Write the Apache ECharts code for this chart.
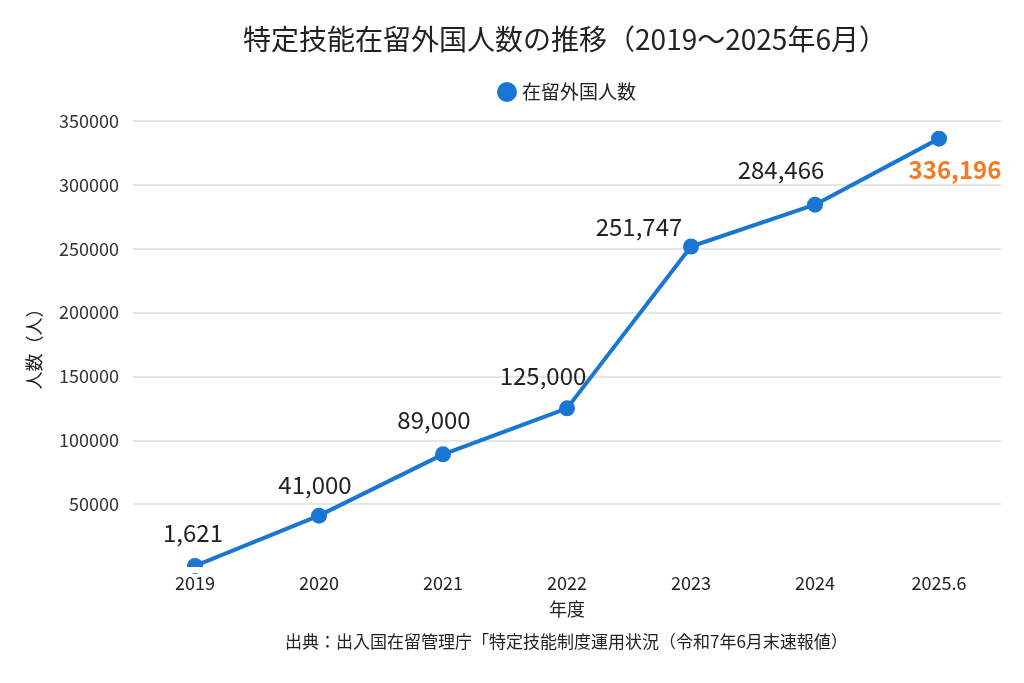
<!DOCTYPE html>
<html><head><meta charset="utf-8">
<script src="https://cdn.jsdelivr.net/npm/echarts@6/dist/echarts.min.js"></script>
<style>html,body{margin:0;padding:0;background:#fff}#c{width:1024px;height:683px}</style>
</head><body><div id="c"></div>
<script>
const categories = ['2019','2020','2021','2022','2023','2024','2025.6'];
const values = [1621, 41000, 89000, 125000, 251747, 284466, 336196];
const yTicks = [0, 50000, 100000, 150000, 200000, 250000, 300000, 350000];
const labelOffsets = [[-2,0],[-4,2],[-9,-1],[-24,1],[-52,13],[-34,-2],[16,64]];

const FONT = '"Noto Sans CJK JP", "Noto Sans", sans-serif';
const chart = echarts.init(document.getElementById('c'));
const data = values.map((v, i) => {
  const last = i === values.length - 1;
  return {
    value: v,
    label: {
      offset: labelOffsets[i],
      color: last ? '#f47b20' : '#222',
      fontWeight: last ? 'bold' : 'normal'
    }
  };
});
chart.setOption({
  animation: false,
  textStyle: { fontFamily: FONT },
  title: {
    text: '特定技能在留外国人数の推移（2019～2025年6月）',
    left: 560, top: 20, textAlign: 'center',
    textStyle: { fontSize: 28, fontWeight: 'normal', color: '#222', fontFamily: FONT }
  },
  legend: {
    data: ['在留外国人数'], left: 492, top: 77,
    icon: 'circle', itemWidth: 20, itemHeight: 20, itemGap: 8,
    textStyle: { fontSize: 19, color: '#222', fontFamily: FONT }
  },
  grid: { left: 133, right: 23, top: 121, bottom: 115, containLabel: false },
  xAxis: {
    type: 'category', data: categories, boundaryGap: true,
    name: '年度', nameLocation: 'middle', nameGap: 32,
    nameTextStyle: { fontSize: 18, color: '#222', fontFamily: FONT },
    axisLine: { show: false }, axisTick: { show: false },
    axisLabel: { fontSize: 18, color: '#222', margin: 6, fontFamily: FONT }
  },
  yAxis: {
    type: 'value', min: 0, max: 350000, interval: 50000,
    name: '人数（人）', nameLocation: 'middle', nameGap: 90, nameRotate: 90,
    nameTextStyle: { fontSize: 18, color: '#222', fontFamily: FONT },
    axisLine: { show: false }, axisTick: { show: false },
    axisLabel: {
      fontSize: 18, color: '#333', margin: 14, fontFamily: FONT,
      formatter: v => (v === 0 ? '' : String(v))
    },
    splitLine: { lineStyle: { color: '#dedede', width: 1.5 } }
  },
  series: [{
    name: '在留外国人数', type: 'line', data: data,
    symbol: 'circle', symbolSize: 16,
    itemStyle: { color: '#1976d2' },
    lineStyle: { color: '#1976d2', width: 4 },
    label: {
      show: true, position: 'top', distance: 13,
      fontSize: 24, fontFamily: FONT,
      formatter: p => p.value.toLocaleString('en-US')
    },
    clip: false, z: 3
  }],
  graphic: [
    { type: 'rect', shape: { x: 133, y: 567, width: 868, height: 6 }, style: { fill: '#fff' }, z: 100 },
    { type: 'text', left: 285, top: 633,
      style: { text: '出典：出入国在留管理庁「特定技能制度運用状況（令和7年6月末速報値）',
        fontSize: 17, fill: '#222', fontFamily: FONT } }
  ]
});
</script></body></html>
